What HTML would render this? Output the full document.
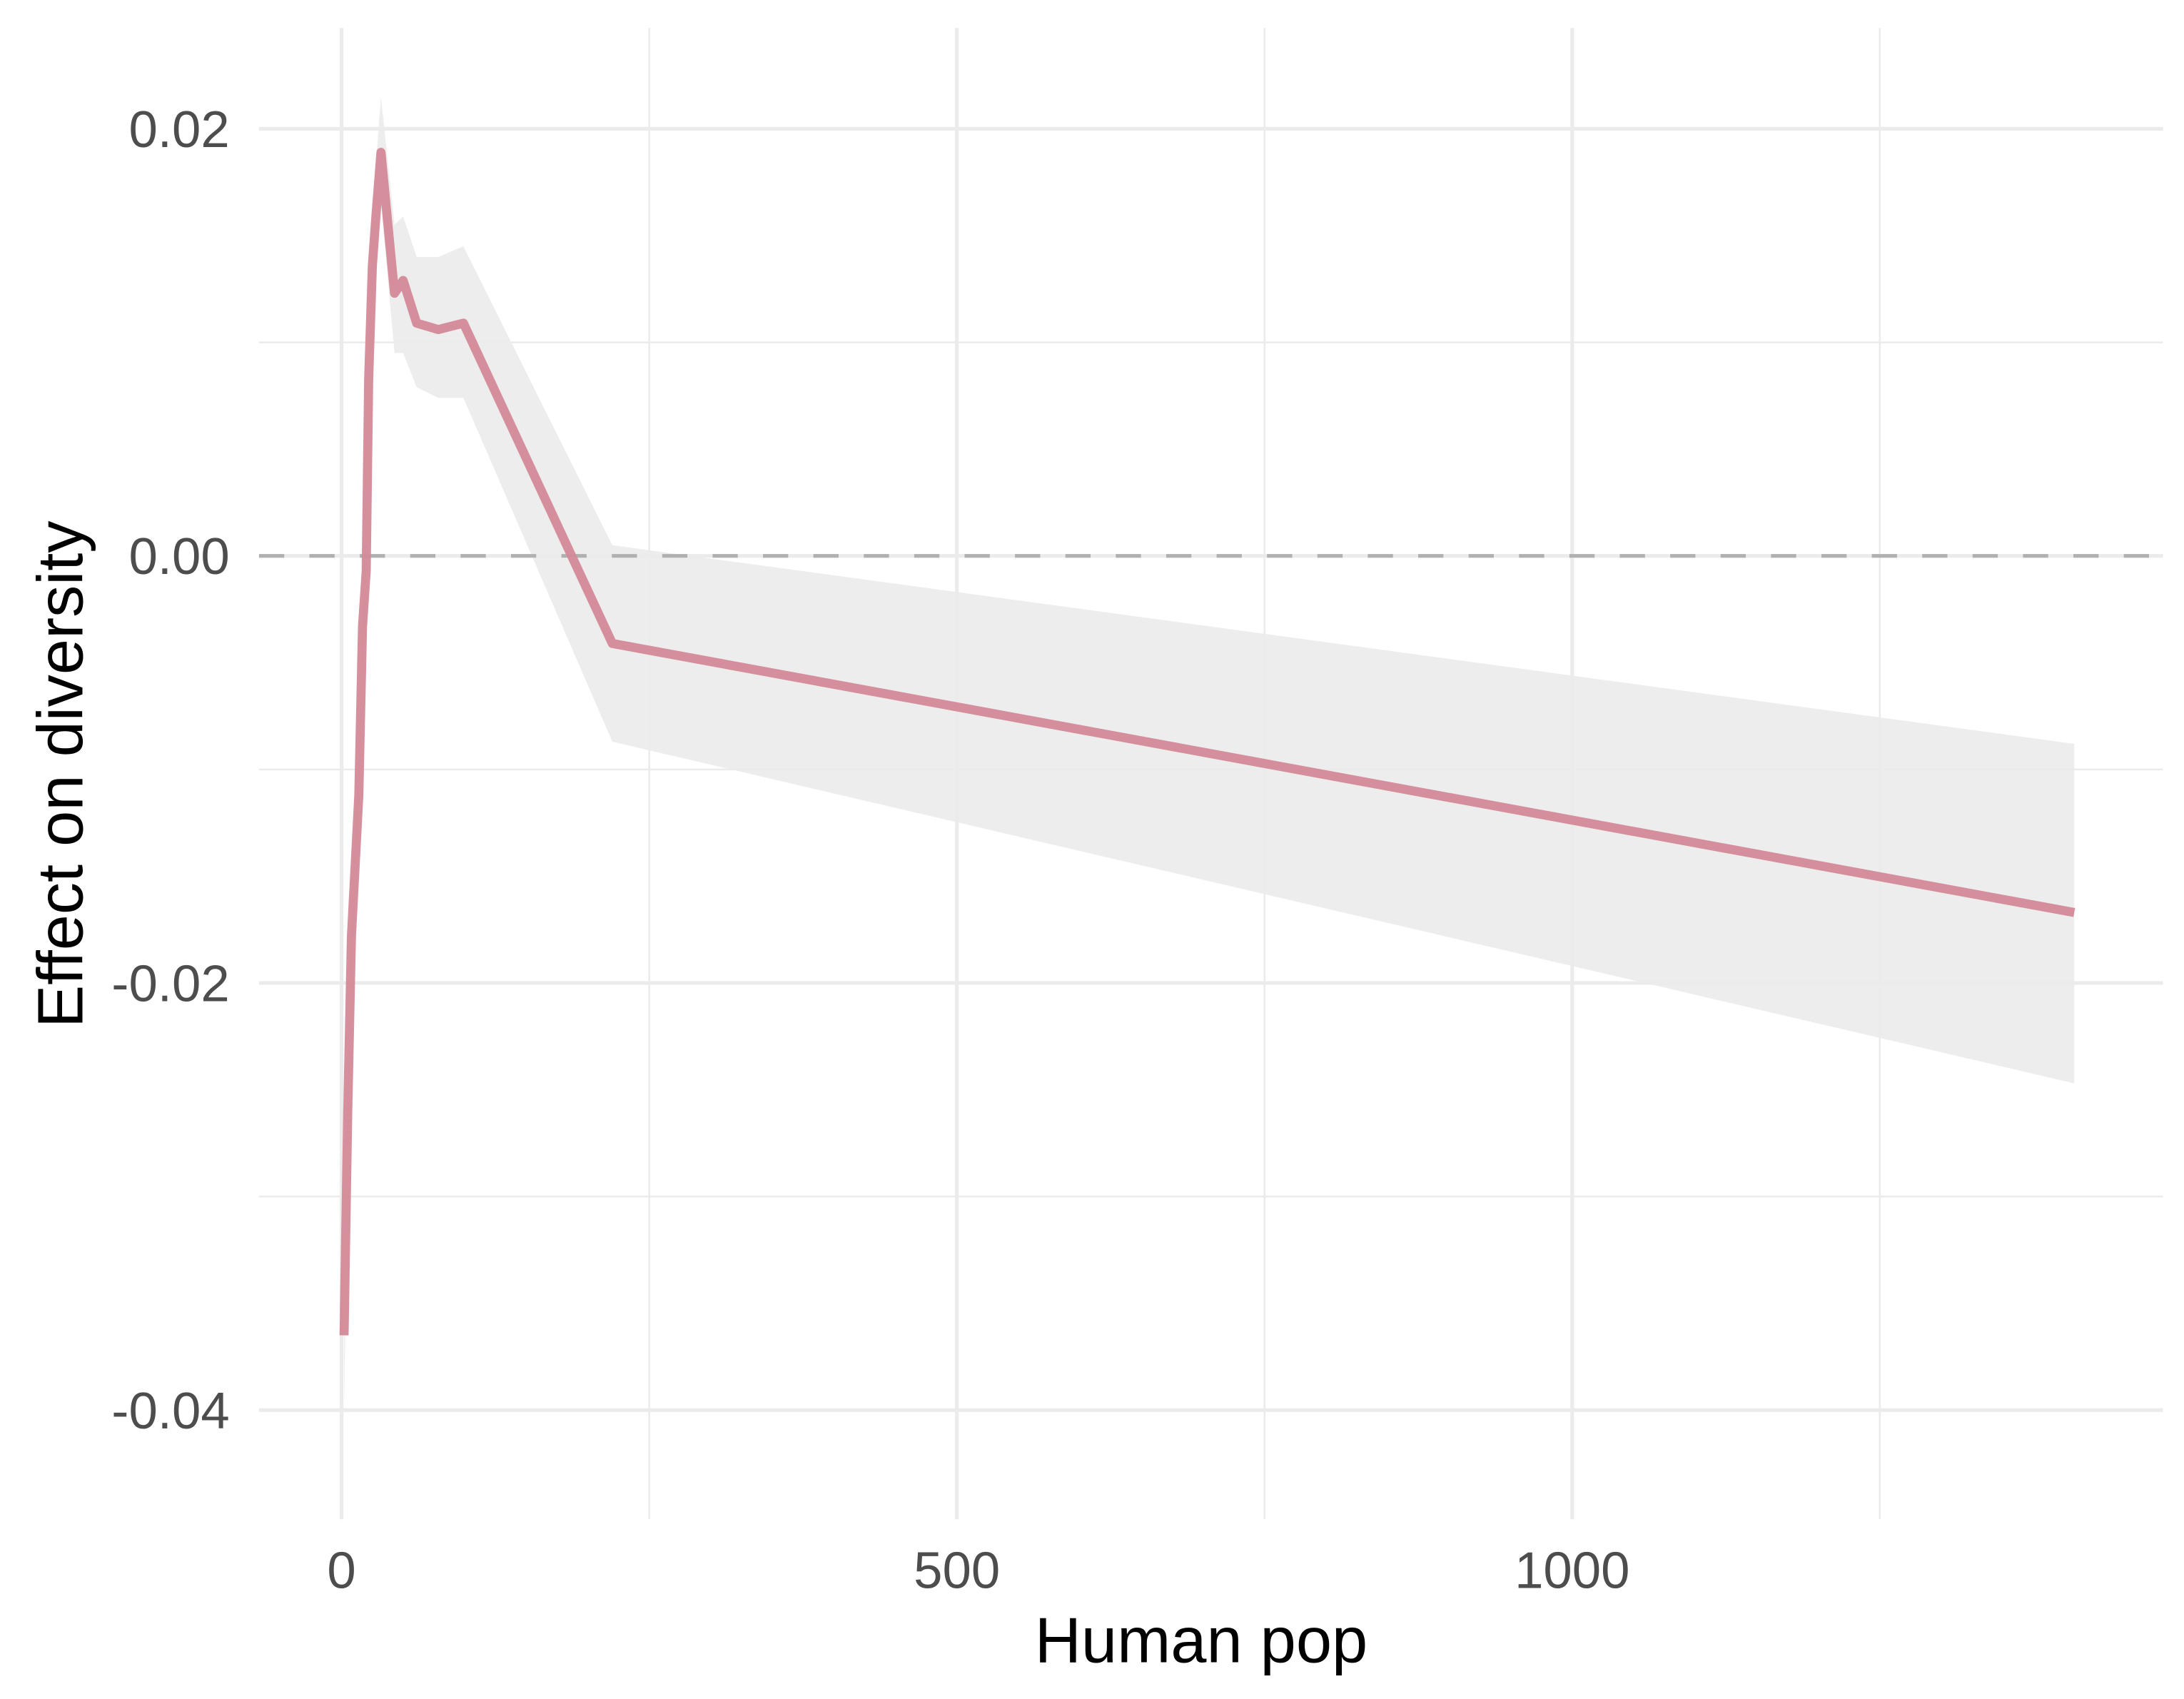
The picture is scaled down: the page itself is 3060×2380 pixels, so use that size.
<!DOCTYPE html>
<html><head><meta charset="utf-8"><style>
html,body{margin:0;padding:0;background:#fff;}
svg{display:block;font-family:"Liberation Sans",Arial,sans-serif;}
</style></head><body>
<svg id="chart" width="3060" height="2380" viewBox="0 0 1560 1213.33" xmlns="http://www.w3.org/2000/svg">
<rect width="1560" height="1213.33" fill="#fff"/>
<g id="grid"></g>
<g id="ribbon"></g>
<g id="ref"></g>
<g id="line"></g>
<g id="axes"></g>
<text x="858" y="1187" font-size="46" fill="#000" text-anchor="middle">Human pop</text>
<text transform="translate(59,553) rotate(-90)" font-size="46" fill="#000" text-anchor="middle">Effect on diversity</text>
</svg>
<script>
const xs = [2,5,8,14,17,20,22,25,28,32,43,50,61,78.5,99,220,1408];
const meanVals = [-0.0365,-0.026,-0.0178,-0.0112,-0.0033,-0.0007,0.0083,0.0136,0.016,0.0189,0.0123,0.0129,0.0109,0.0106,0.0109,-0.0041,-0.0167];
const upperVals = [-0.033,-0.023,-0.0155,-0.009,-0.001,0.0015,0.0105,0.016,0.0185,0.0215,0.0155,0.0159,0.014,0.014,0.0145,0.0005,-0.0088];
const lowerVals = [-0.040,-0.029,-0.020,-0.0135,-0.0055,-0.003,0.006,0.011,0.0135,0.0165,0.0095,0.0095,0.0079,0.0074,0.0074,-0.0087,-0.0247];
const xTicks = [0,500,1000];
const xTickLabels = ["0","500","1000"];
const xMinor = [250,750,1250];
const yTicks = [0.02,0,-0.02,-0.04];
const yTickLabels = ["0.02","0.00","-0.02","-0.04"];
const yMinor = [0.01,-0.01,-0.03];

const NS="http://www.w3.org/2000/svg";
function X(v){return 244+v*0.879;}
function Y(v){return 397-v*15250;}
const L=185,R=1545,T=20,B=1085;
function mk(tag,attrs,parent){const e=document.createElementNS(NS,tag);for(const k in attrs)e.setAttribute(k,attrs[k]);parent.appendChild(e);return e;}
const grid=document.getElementById('grid');
xMinor.forEach(v=>{const e=mk('line',{x1:X(v),x2:X(v),y1:T,y2:B,stroke:'#ebebeb','stroke-width':1.3},grid);

});
yMinor.forEach(v=>{const e=mk('line',{x1:L,x2:R,y1:Y(v),y2:Y(v),stroke:'#ebebeb','stroke-width':1.3},grid);

});
xTicks.forEach(v=>{const e=mk('line',{x1:X(v),x2:X(v),y1:T,y2:B,stroke:'#ebebeb','stroke-width':2.6},grid);

});
yTicks.forEach(v=>{const e=mk('line',{x1:L,x2:R,y1:Y(v),y2:Y(v),stroke:'#ebebeb','stroke-width':2.6},grid);

});

let pts=xs.map((x,i)=>X(x)+','+Y(upperVals[i]));
for(let i=xs.length-1;i>=0;i--)pts.push(X(xs[i])+','+Y(lowerVals[i]));
const rib=mk('polygon',{points:pts.join(' '),fill:'#ebebeb','fill-opacity':0.9},document.getElementById('ribbon'));



const zl=mk('line',{x1:L,x2:R,y1:Y(0),y2:Y(0),stroke:'#b0b0b0','stroke-width':2.6,'stroke-dasharray':'18,18'},document.getElementById('ref'));



const ln=mk('polyline',{points:xs.map((x,i)=>X(x)+','+Y(meanVals[i])).join(' '),fill:'none',stroke:'#d48a98','stroke-opacity':0.95,'stroke-width':6.5,'stroke-linejoin':'round'},document.getElementById('line'));



const ax=document.getElementById('axes');
xTicks.forEach((v,i)=>{const t=mk('text',{x:X(v),y:1134,'font-size':37,fill:'#4d4d4d','text-anchor':'middle'},ax);t.textContent=xTickLabels[i];

});
yTicks.forEach((v,i)=>{const t=mk('text',{x:164,y:Y(v)+13,'font-size':37,fill:'#4d4d4d','text-anchor':'end'},ax);t.textContent=yTickLabels[i];

});
</script>
</body></html>
